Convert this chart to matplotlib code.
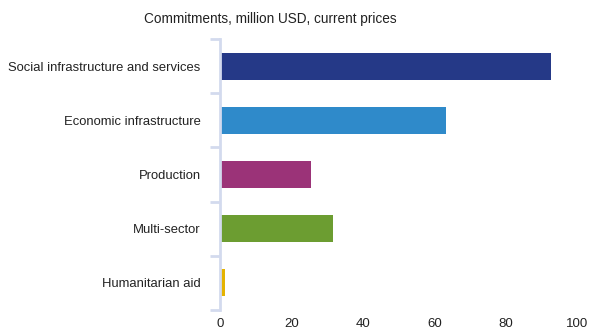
import matplotlib.pyplot as plt
import numpy as np

plt.rcParams['font.family'] = ['Liberation Sans', 'DejaVu Sans']

sectors = ['Social infrastructure and services', 'Economic infrastructure',
           'Production', 'Multi-sector', 'Humanitarian aid']
values = [92.7, 63.2, 25.5, 31.5, 1.3]
colors = ['#253987', '#2F8ACA', '#9B3378', '#6C9D31', '#E5B300']

fig = plt.figure(figsize=(5.89, 3.29), dpi=100)
ax = fig.add_axes([0.3735, 0.058, 0.6065, 0.8235])

y = np.arange(len(sectors))
ax.barh(y, values, height=0.5, color=colors)
ax.set_ylim(len(sectors) - 0.5, -0.5)
ax.set_xlim(0, 100)

ax.set_yticks(y)
ax.set_yticklabels(sectors, fontsize=9.4, color='#222222')
ax.tick_params(axis='y', which='major', length=0, pad=14)
ax.set_yticks(np.arange(-0.5, len(sectors)), minor=True)
ax.tick_params(axis='y', which='minor', length=7, width=2, color='#D3DAEE')

ax.set_xticks([0, 20, 40, 60, 80, 100])
ax.tick_params(axis='x', length=0, labelsize=9.5, labelcolor='#222222', pad=6)

for s in ['top', 'right', 'bottom']:
    ax.spines[s].set_visible(False)
ax.spines['left'].set_color('#D3DAEE')
ax.spines['left'].set_linewidth(2)

fig.text(0.459, 0.943, 'Commitments, million USD, current prices',
         ha='center', va='center', fontsize=9.8, color='#222222')

fig.savefig('out.png', dpi=100)
